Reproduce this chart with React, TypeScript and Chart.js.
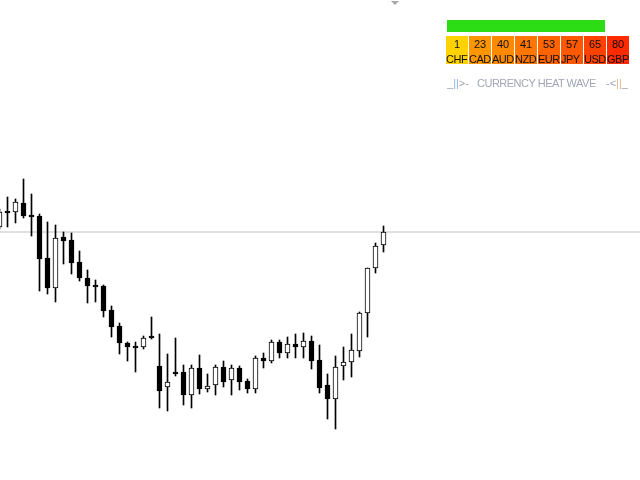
import React, { useEffect, useRef } from 'react';
import { Chart, registerables } from 'chart.js';

Chart.register(...registerables);

// bar data, oldest first (price ~ EURUSD style)
const OPEN = [
  1.1173, 1.1189, 1.1188, 1.1197, 1.1185, 1.1184, 1.1142, 1.1112, 1.1163, 1.1160,
  1.1138, 1.1122, 1.1115, 1.1114, 1.1090, 1.1074, 1.1057, 1.1054, 1.1053, 1.1064,
  1.1034, 1.1013, 1.1028, 1.1028, 1.1005, 1.1032, 1.1011, 1.1015, 1.1033, 1.1020,
  1.1032, 1.1019, 1.1011, 1.1042, 1.1039, 1.1058, 1.1047, 1.1056, 1.1053, 1.1059,
  1.1040, 1.1015, 1.1001, 1.1034, 1.1038, 1.1049, 1.1087, 1.1132, 1.1155,
];
const HIGH = [
  1.1191, 1.1203, 1.1201, 1.1221, 1.1206, 1.1186, 1.1178, 1.1175, 1.1168, 1.1167,
  1.1149, 1.1130, 1.1120, 1.1115, 1.1094, 1.1077, 1.1058, 1.1058, 1.1064, 1.1083,
  1.1066, 1.1046, 1.1062, 1.1035, 1.1035, 1.1045, 1.1026, 1.1035, 1.1039, 1.1035,
  1.1034, 1.1021, 1.1044, 1.1047, 1.1060, 1.1060, 1.1063, 1.1066, 1.1067, 1.1064,
  1.1055, 1.1026, 1.1044, 1.1053, 1.1066, 1.1088, 1.1132, 1.1157, 1.1174,
];
const LOW = [
  1.1171, 1.1173, 1.1177, 1.1182, 1.1164, 1.1109, 1.1106, 1.1098, 1.1136, 1.1126,
  1.1119, 1.1097, 1.1098, 1.1083, 1.1063, 1.1046, 1.1039, 1.1028, 1.1051, 1.1061,
  1.0992, 1.0989, 1.1024, 1.0995, 1.0992, 1.1006, 1.1008, 1.1005, 1.1013, 1.1005,
  1.1010, 1.1007, 1.1007, 1.1032, 1.1037, 1.1042, 1.1042, 1.1042, 1.1042, 1.1031,
  1.1007, 1.0981, 1.0971, 1.1020, 1.1023, 1.1043, 1.1063, 1.1127, 1.1148,
];
const CLOSE = [
  1.1188, 1.1187, 1.1198, 1.1184, 1.1183, 1.1141, 1.1112, 1.1162, 1.1159, 1.1137,
  1.1122, 1.1114, 1.1113, 1.1089, 1.1073, 1.1057, 1.1053, 1.1052, 1.1062, 1.1062,
  1.1009, 1.1018, 1.1026, 1.1005, 1.1032, 1.1011, 1.1014, 1.1033, 1.1018, 1.1032,
  1.1018, 1.1011, 1.1042, 1.1039, 1.1058, 1.1047, 1.1056, 1.1053, 1.1059, 1.1039,
  1.1012, 1.1001, 1.1033, 1.1038, 1.1050, 1.1087, 1.1132, 1.1154, 1.1168,
];

const CURRENCIES = ['CHF', 'CAD', 'AUD', 'NZD', 'EUR', 'JPY', 'USD', 'GBP'];
const STRENGTH = [1, 23, 40, 41, 53, 57, 65, 80];
const HEAT = ['#ffd200', '#ff9600', '#ff8a00', '#ff7600', '#ff6400', '#ff5800', '#ff4200', '#ff2a00'];

const Y_MIN = 1.092;
const Y_MAX = 1.14;
const X_MIN = 0.0625;
const X_MAX = 80.0625;

const txt: React.CSSProperties = {
  position: 'absolute', fontFamily: '"Liberation Sans", Arial, sans-serif',
  fontSize: 11, lineHeight: '12px', whiteSpace: 'pre',
};

export default function App() {
  const ref = useRef<HTMLCanvasElement>(null);

  useEffect(() => {
    document.body.style.margin = '0';
    if (!ref.current) return;
    const last = CLOSE[CLOSE.length - 1];
    const chart = new Chart(ref.current, {
      type: 'bar',
      data: {
        datasets: [
          {
            type: 'line',
            data: [{ x: X_MIN, y: last }, { x: X_MAX, y: last }],
            borderColor: '#c0c0c0',
            borderWidth: 1,
            pointRadius: 0,
            order: 3,
          } as any,
          {
            data: LOW.map((l, i) => ({ x: i, y: [l, HIGH[i]] })),
            backgroundColor: '#000',
            borderWidth: 0,
            barThickness: 1,
            grouped: false,
            order: 2,
          },
          {
            data: OPEN.map((o, i) => ({ x: i, y: [o, CLOSE[i]] })),
            backgroundColor: OPEN.map((o, i) => (CLOSE[i] > o ? '#fff' : '#000')),
            borderColor: '#000',
            borderWidth: 1,
            borderSkipped: false,
            barThickness: 5,
            grouped: false,
            order: 1,
          },
        ],
      },
      options: {
        animation: false,
        responsive: false,
        plugins: { legend: { display: false }, tooltip: { enabled: false } },
        scales: {
          x: { type: 'linear', display: false, min: X_MIN, max: X_MAX, offset: false },
          y: { type: 'linear', display: false, min: Y_MIN, max: Y_MAX, beginAtZero: false },
        },
      },
    });
    return () => chart.destroy();
  }, []);

  return (
    <div style={{ position: 'relative', width: 640, height: 480, overflow: 'hidden', background: '#fff' }}>
      <canvas ref={ref} width={640} height={480} style={{ position: 'absolute', left: 0, top: 0 }} />

      {/* chart shift marker */}
      <div style={{
        position: 'absolute', left: 391, top: 1, width: 0, height: 0,
        borderLeft: '4px solid transparent', borderRight: '4px solid transparent', borderTop: '4px solid #a8a8a8',
      }} />

      {/* heat wave panel */}
      <div style={{ position: 'absolute', left: 447, top: 20, width: 158, height: 12, background: '#2cdc14' }} />
      {CURRENCIES.map((c, k) => (
        <div key={c} style={{ position: 'absolute', left: 446 + 23 * k, top: 36, width: 22, height: 28, background: HEAT[k] }}>
          <div style={{ ...txt, left: 0, top: 2, width: 22, textAlign: 'center', color: '#111' }}>{STRENGTH[k]}</div>
          <div style={{ ...txt, left: 0, top: 17, color: '#111', letterSpacing: -0.5 }}>{c}</div>
        </div>
      ))}
      <div style={{ ...txt, left: 447, top: 77, color: '#a0a4b2' }}>
        _<span style={{ color: '#8cb6e2' }}>||</span>&gt;-
      </div>
      <div style={{ ...txt, left: 477, top: 77, color: '#a0a6b6', letterSpacing: -0.5 }}>CURRENCY HEAT WAVE</div>
      <div style={{ ...txt, left: 606, top: 77, color: '#a0a4b2' }}>
        -&lt;<span style={{ color: '#e2b68c' }}>||</span>_
      </div>
    </div>
  );
}
